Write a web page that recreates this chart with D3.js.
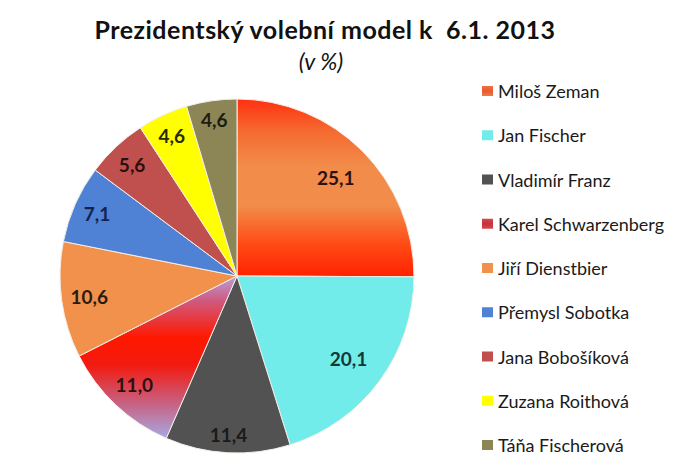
<!DOCTYPE html>
<html><head><meta charset="utf-8">
<script src="https://cdn.jsdelivr.net/npm/d3@7"></script>
<style>body{margin:0;background:#fff}svg{display:block}</style>
</head><body>
<svg id="chart" width="688" height="471"></svg>
<script>
const categories = ["Miloš Zeman","Jan Fischer","Vladimír Franz","Karel Schwarzenberg","Jiří Dienstbier","Přemysl Sobotka","Jana Bobošíková","Zuzana Roithová","Táňa Fischerová"];
const values = [25.1, 20.1, 11.4, 11.0, 10.6, 7.1, 5.6, 4.6, 4.6];
const valueLabels = ["25,1","20,1","11,4","11,0","10,6","7,1","5,6","4,6","4,6"];
const colors = ["url(#gZeman)","#72ecea","#525252","url(#gSchw)","#f2914c","#4f81d4","#c0504d","#ffff00","#8c8656"];
const legendColors = ["url(#gZemanL)","#72ecea","#525252","url(#gSchwL)","#f2914c","#4f81d4","#c0504d","#ffff00","#8c8656"];
const labelColors = ["#2a1212","#123838","#1a1a1a","#2a1010","#2a1a10","#14234e","#2a1010","#2a2a00","#1e1c10"];

const svg = d3.select("#chart");
const defs = svg.append("defs");
function grad(id, stops){
  const g = defs.append("linearGradient").attr("id", id).attr("x1",0).attr("y1",0).attr("x2",0).attr("y2",1);
  stops.forEach(s => g.append("stop").attr("offset", s[0]).attr("stop-color", s[1]));
}
grad("gZeman", [[0,"#ff3010"],[0.18,"#f56a30"],[0.38,"#f28c4a"],[0.6,"#f28c4a"],[0.82,"#ff4a15"],[1,"#ff2200"]]);
grad("gZemanL", [[0,"#f07040"],[0.5,"#e85a30"],[1,"#f07a44"]]);
grad("gSchw", [[0,"#b8a0d8"],[0.15,"#d05a80"],[0.38,"#ff1800"],[0.55,"#f21a10"],[0.78,"#c86080"],[1,"#a8a8e4"]]);
grad("gSchwL", [[0,"#d04a50"],[0.5,"#c83040"],[1,"#d04a50"]]);

// Title
svg.append("text").attr("x", 325).attr("y", 39).attr("text-anchor","middle")
  .attr("font-family","Lato, 'Open Sans', sans-serif").attr("font-weight","bold").attr("font-size",25)
  .attr("letter-spacing",0.5)
  .attr("fill","#111").attr("xml:space","preserve").text("Prezidentský volební model k  6.1. 2013");
svg.append("text").attr("x", 321).attr("y", 70).attr("text-anchor","middle")
  .attr("font-family","Lato, 'Open Sans', sans-serif").attr("font-style","italic").attr("font-size",23)
  .attr("fill","#111").text("(v %)");

// Pie
const cx = 237, cy = 276, R = 177;
const pie = d3.pie().sort(null).value(d => d);
const arcs = pie(values);
const arc = d3.arc().innerRadius(0).outerRadius(R);
const g = svg.append("g").attr("transform", `translate(${cx},${cy})`);
g.selectAll("path.slice").data(arcs).enter().append("path")
  .attr("class","slice").attr("d", arc)
  .attr("fill", (d,i) => colors[i])
  .attr("stroke", "#f4efe8").attr("stroke-width", 1);

// Labels (inside end)
const labels = g.selectAll("text.lbl").data(arcs).enter().append("text")
  .attr("class","lbl").attr("text-anchor","middle").attr("dominant-baseline","central")
  .attr("font-family","Lato, 'Open Sans', sans-serif").attr("font-weight","bold").attr("font-size",19)
  .attr("fill",(d,i)=>labelColors[i])
  .text((d,i)=>valueLabels[i]);
labels.each(function(d){
  const bb = this.getBBox();
  const a = (d.startAngle + d.endAngle)/2;
  const s = Math.abs(Math.sin(a)), c = Math.abs(Math.cos(a));
  const pad = (d.endAngle - d.startAngle) > 1.2 ? 18 : 8;
  const r = R - pad - (bb.width/2*s + 9*c);
  d3.select(this).attr("x", r*Math.sin(a)).attr("y", -r*Math.cos(a));
});

// Legend
const ly = d3.scalePoint().domain(categories).range([91, 445]);
const leg = svg.append("g");
const items = leg.selectAll("g").data(categories).enter().append("g")
  .attr("transform", d => `translate(482,${ly(d)})`);
items.append("rect").attr("x",0).attr("y",-5).attr("width",11).attr("height",10)
  .attr("fill",(d,i)=>legendColors[i]);
items.append("text").attr("x",16).attr("y",0).attr("dominant-baseline","central")
  .attr("font-family","Lato, 'Open Sans', sans-serif").attr("font-size",18).attr("fill","#1a1a1a")
  .text(d=>d);
</script>
</body></html>
